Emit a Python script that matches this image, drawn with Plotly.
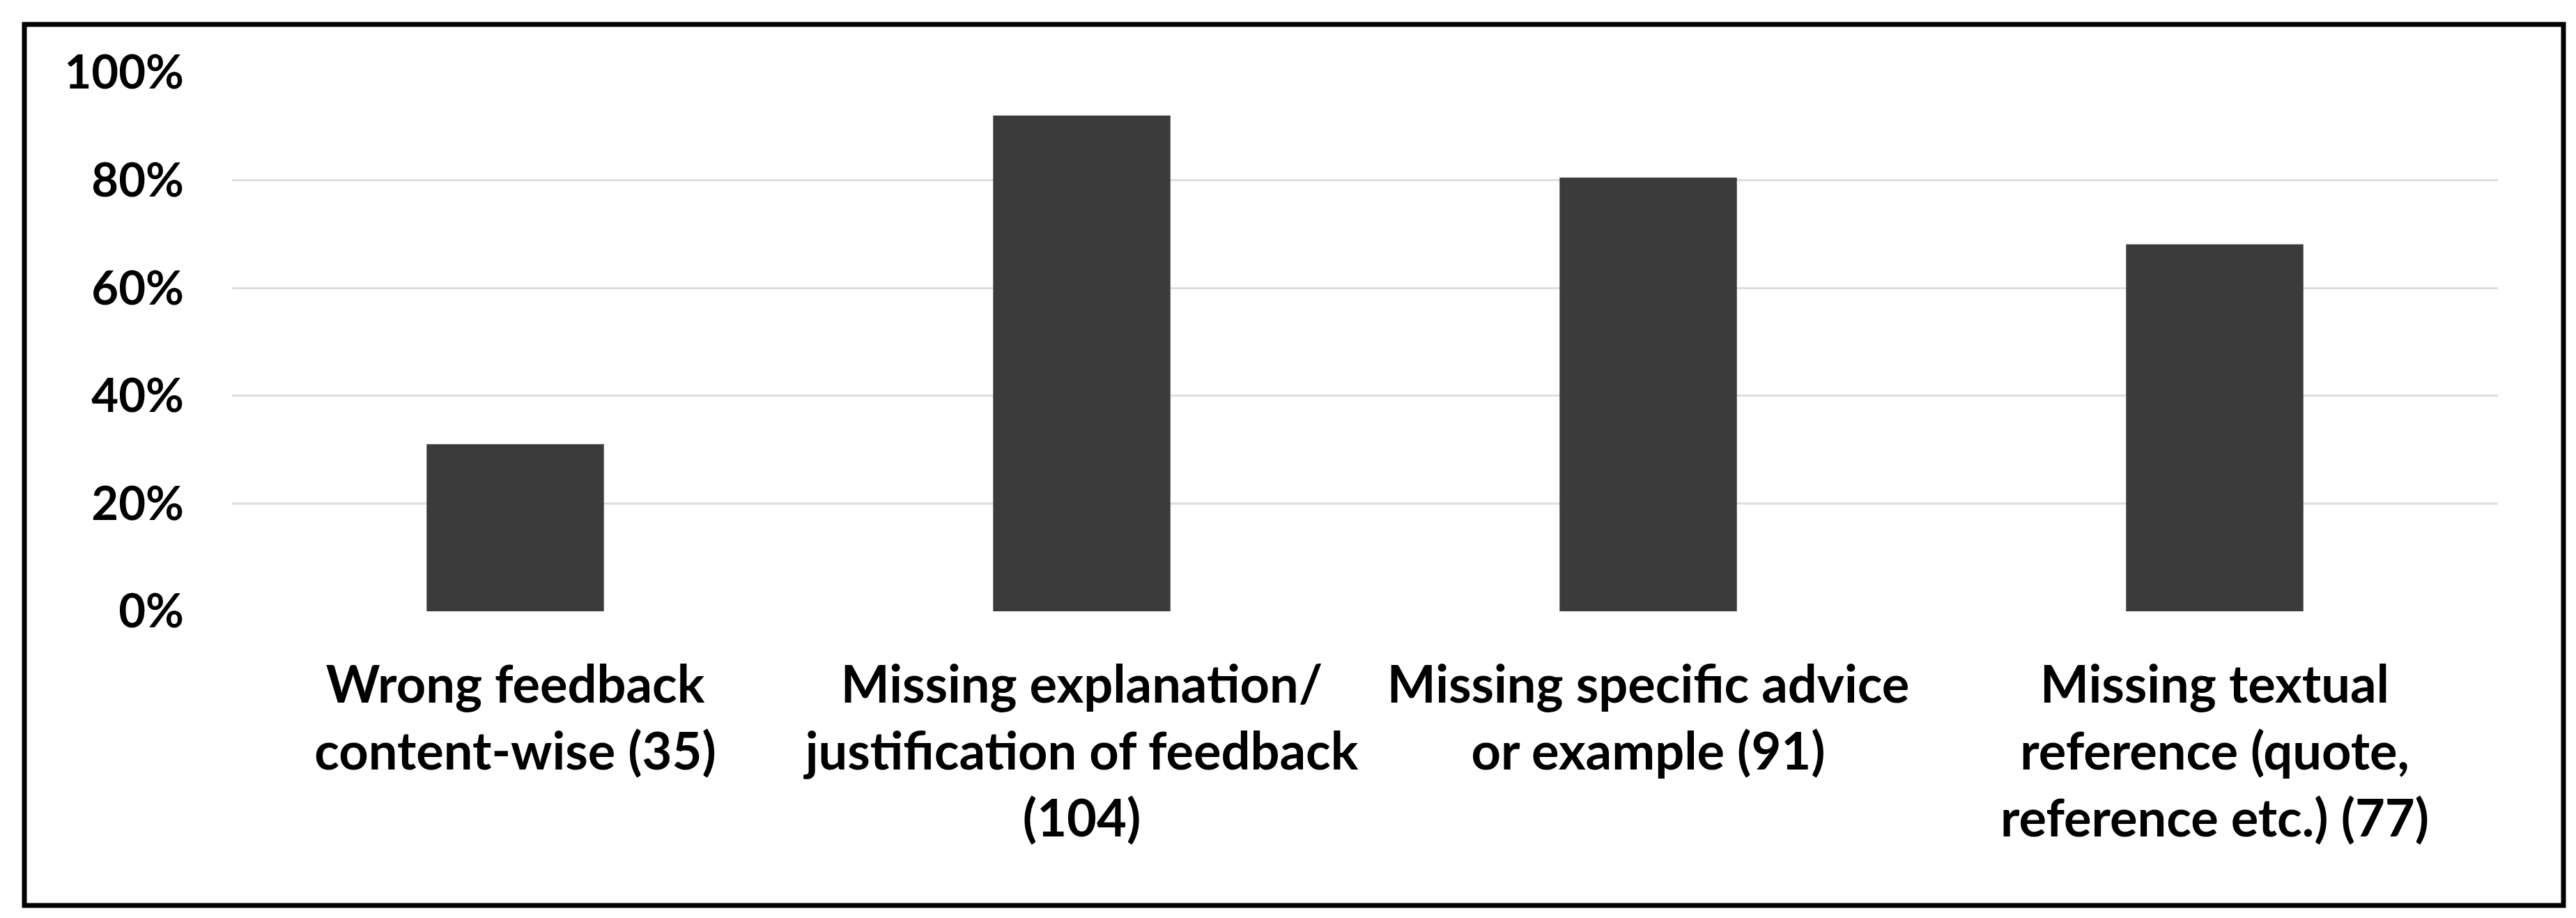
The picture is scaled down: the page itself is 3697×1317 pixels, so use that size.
"""Share of feedback issues by category (bar chart with framed border)."""
import plotly.graph_objects as go

# --------------------------------------------------------------------------- #
# Data
# --------------------------------------------------------------------------- #
CATEGORIES = [
    "Wrong feedback<br>content-wise (35)",
    "Missing explanation/<br>justification of feedback<br>(104)",
    "Missing specific advice<br>or example (91)",
    "Missing textual<br>reference (quote,<br>reference etc.) (77)",
]
SHARES = [0.310, 0.920, 0.805, 0.681]
Y_TICKS = [0, 0.2, 0.4, 0.6, 0.8, 1.0]

# --------------------------------------------------------------------------- #
# Style
# --------------------------------------------------------------------------- #
BAR = "#3b3b3b"
GRID = "#dedede"
TEXT = "#000000"
FONT = "Lato, 'Open Sans', sans-serif"

W, H = 3697, 1317
M_L, M_R, M_T, M_B = 325, 120, 96, 448

fig = go.Figure(go.Bar(
    x=CATEGORIES,
    y=SHARES,
    marker_color=BAR,
    marker_line=dict(width=0),
))

fig.update_layout(
    width=W,
    height=H,
    paper_bgcolor="white",
    plot_bgcolor="white",
    margin=dict(l=M_L, r=M_R, t=M_T, b=M_B),
    font=dict(family=FONT, color=TEXT, size=66, weight="bold"),
    bargap=0.687,
    showlegend=False,
)
fig.update_yaxes(
    range=[0, 1.0],
    tickvals=Y_TICKS,
    tickformat=".0%",
    gridcolor=GRID,
    gridwidth=3,
    zeroline=False,
    showline=False,
    ticklabelstandoff=68,
    tickfont=dict(size=67, family=FONT, weight="bold"),
)
fig.update_xaxes(
    showline=False,
    showgrid=False,
    ticklabelstandoff=56,
    tickfont=dict(size=74, family=FONT, weight="bold"),
)

# frame around the whole picture
pw, ph = W - M_L - M_R, H - M_T - M_B
fig.add_shape(
    type="rect", xref="paper", yref="paper",
    x0=(27 - M_L) / pw, x1=(3671 - M_L) / pw,
    y0=(H - 1291 - M_B) / ph, y1=(H - 27 - M_B) / ph,
    line=dict(color="black", width=7),
    fillcolor="rgba(0,0,0,0)",
)

fig.write_html("out.html")
